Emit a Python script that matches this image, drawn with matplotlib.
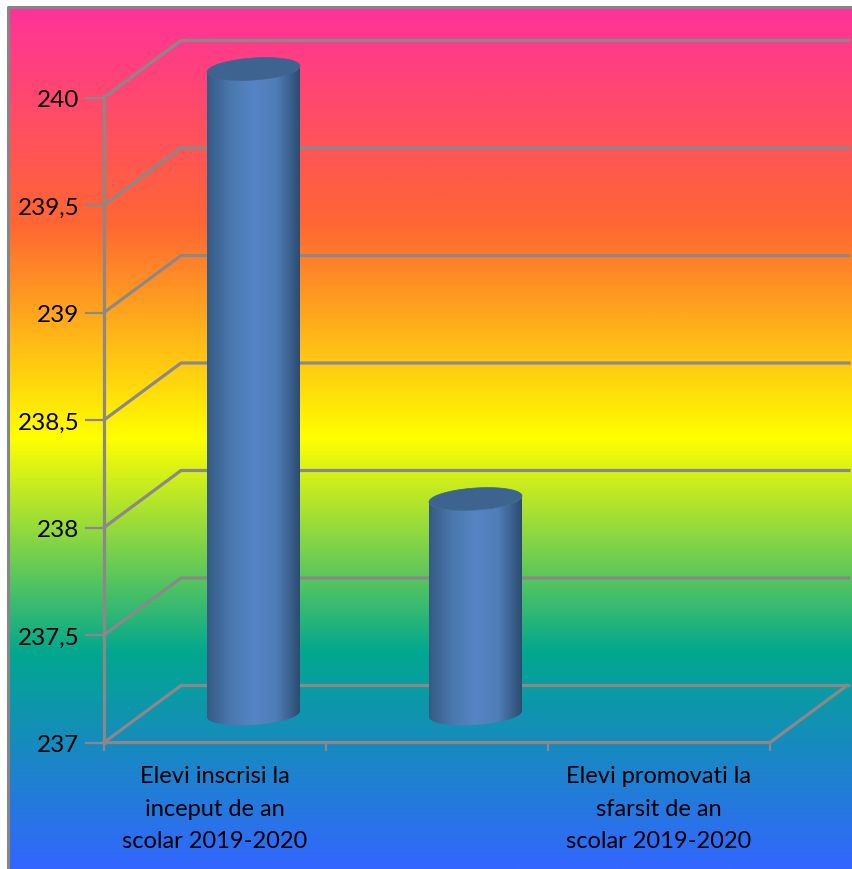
import numpy as np
import matplotlib
matplotlib.use('Agg')
import matplotlib.pyplot as plt
from matplotlib.colors import LinearSegmentedColormap
from matplotlib.patches import PathPatch, Polygon
from matplotlib.path import Path

categories = ['Elevi inscrisi la\ninceput de an\nscolar 2019-2020', '',
              'Elevi promovati la\nsfarsit de an\nscolar 2019-2020']
values = [240, 238, None]
y_ticks = [237, 237.5, 238, 238.5, 239, 239.5, 240]
y_labels = ['237', '237,5', '238', '238,5', '239', '239,5', '240']

W, H = 852, 870
# pixel layout of the front plane
x0, cat_w = 104, 222
y0, px_per_unit = 743.5, 645 / 3
depth_x, depth_y = 77 / cat_w, 57 / px_per_unit
bar_rx, bar_ry = 46.5 / cat_w, 11 / px_per_unit
bar_tilt = 3 / px_per_unit

plt.rcParams['font.family'] = ['Lato', 'DejaVu Sans']

fig = plt.figure(figsize=(W / 100, H / 100), dpi=100)
ax = fig.add_axes([0, 0, 1, 1])
ax.set_xlim(-x0 / cat_w, (W - x0) / cat_w)
ax.set_ylim(237 - (H - y0) / px_per_unit, 237 + y0 / px_per_unit)
ax.axis('off')
xl, yl = ax.get_xlim(), ax.get_ylim()


def px_x(p):
    return xl[0] + p / cat_w


def px_y(p):
    return yl[1] - p / px_per_unit


# background gradient
rainbow = LinearSegmentedColormap.from_list('rainbow_fill', ['#FF3399', '#FF6633', '#FFFF00', '#01A78F', '#3366FF'])
grad = np.linspace(0, 1, 512).reshape(-1, 1)
ax.imshow(grad, cmap=rainbow, aspect='auto', zorder=0,
          extent=[px_x(9), px_x(852), px_y(870), px_y(9)], origin='upper')
ax.set_xlim(xl)
ax.set_ylim(yl)
ax.plot([px_x(8), px_x(8), px_x(852)], [px_y(872), px_y(8), px_y(8)], color='#868686', lw=2.2, zorder=1)

grid_c = '#8C8888'
n_cat = len(categories)
for v, lab in zip(y_ticks, y_labels):
    ax.plot([0, depth_x, n_cat + depth_x + 2 / cat_w], [v, v + depth_y, v + depth_y], color=grid_c, lw=2.3, zorder=2)
    ax.plot([-18 / cat_w, 0], [v, v], color=grid_c, lw=1.6, zorder=2)
    ax.text(-24.5 / cat_w, v - 2.5 / px_per_unit, lab, ha='right', va='center', fontsize=17.5, color='black')
# axes lines and floor
ax.plot([0, 0], [237, 240], color=grid_c, lw=2.3, zorder=2)
ax.plot([0, n_cat, n_cat + depth_x], [237, 237, 237 + depth_y], color=grid_c, lw=2.3, zorder=2)
for i in range(n_cat + 1):
    ax.plot([i, i], [237, 237 - 7 / px_per_unit], color=grid_c, lw=1.6, zorder=2)

# cylinders
shade = LinearSegmentedColormap.from_list('cyl', ['#365A85', '#4A78AE', '#5585C5', '#4F7DB8', '#2C4C70'])
sgrad = np.linspace(0, 1, 128).reshape(1, -1)
for i, v in enumerate(values):
    if v is None:
        continue
    cx = i + 0.5 + depth_x / 2
    base = 237 + depth_y / 2
    top = v + depth_y / 2
    t = np.linspace(0, 2 * np.pi, 121)
    ring_x = cx + bar_rx * np.cos(t)
    ring_y = bar_ry * np.sin(t) + bar_tilt * np.cos(t)
    lower = t >= np.pi
    low = np.column_stack([ring_x[lower], base + ring_y[lower]])
    up = np.column_stack([ring_x[lower][::-1], top + ring_y[lower][::-1]])
    verts = np.vstack([low, up, low[:1]])
    body = PathPatch(Path(verts), fc='none', ec='none')
    ax.add_patch(body)
    im = ax.imshow(sgrad, cmap=shade, aspect='auto', zorder=3,
                   extent=[cx - bar_rx, cx + bar_rx, base - 2 * bar_ry, top + 2 * bar_ry])
    im.set_clip_path(body)
    ax.add_patch(Polygon(np.column_stack([ring_x, top + ring_y]), fc='#3D6490', ec='#3D6490', lw=0.5, zorder=4))
ax.set_xlim(xl)
ax.set_ylim(yl)

# category labels
for i, c in enumerate(categories):
    if c:
        ax.text(i + 0.5, px_y(809), c, ha='center', va='center', fontsize=17, linespacing=1.68, color='black')

fig.savefig('out.png', dpi=100)
